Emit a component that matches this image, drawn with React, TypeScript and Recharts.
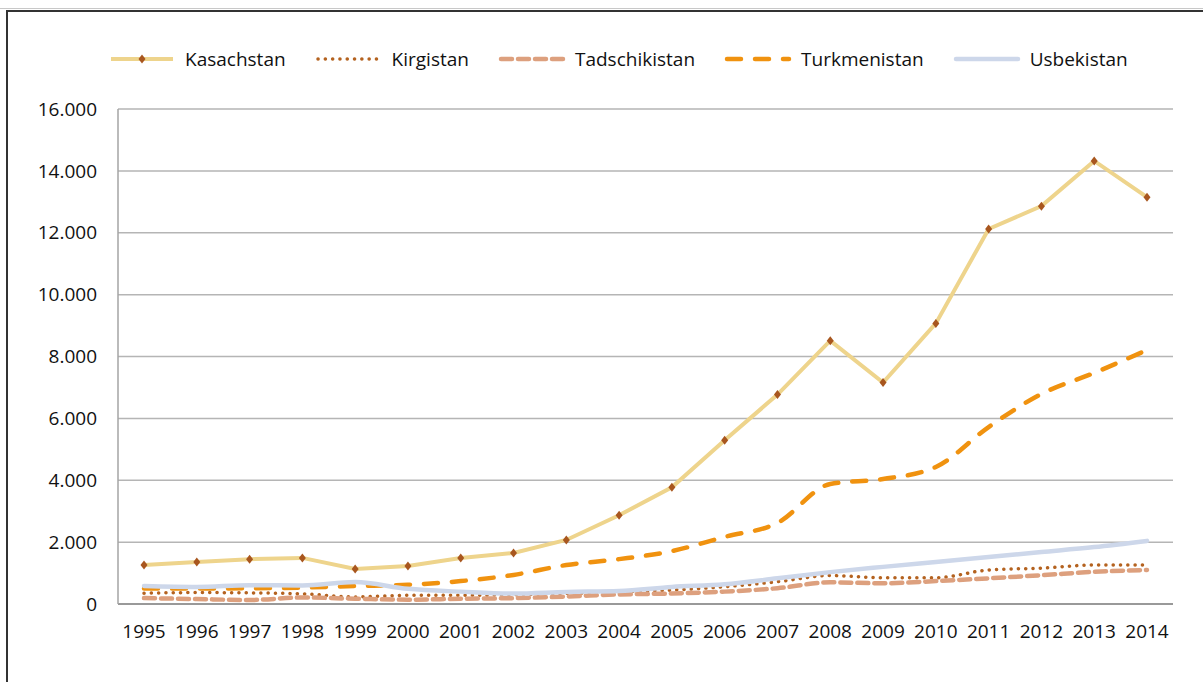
import React from 'react';
import { LineChart, Line, XAxis, YAxis, CartesianGrid } from 'recharts';

const years = ['1995', '1996', '1997', '1998', '1999', '2000', '2001', '2002', '2003', '2004',
    '2005', '2006', '2007', '2008', '2009', '2010', '2011', '2012', '2013', '2014'];

const kasachstan = [1260, 1360, 1450, 1490, 1130, 1230, 1490, 1650, 2070, 2870,
    3770, 5290, 6770, 8510, 7160, 9070, 12120, 12860, 14320, 13150];
const kirgistan = [350, 370, 360, 330, 230, 280, 280, 300, 340, 400,
    450, 560, 720, 920, 850, 850, 1100, 1160, 1260, 1260];
const tadschikistan = [190, 160, 130, 210, 170, 140, 170, 190, 240, 310,
    340, 400, 510, 700, 670, 740, 830, 930, 1040, 1100];
const turkmenistan = [500, 500, 510, 530, 580, 620, 740, 940, 1260, 1450,
    1710, 2170, 2620, 3880, 4040, 4430, 5720, 6790, 7470, 8210];
const usbekistan = [580, 550, 610, 600, 710, 490, 400, 340, 390, 420,
    550, 640, 830, 1030, 1200, 1360, 1520, 1680, 1840, 2040];

const yTicks = [0, 2000, 4000, 6000, 8000, 10000, 12000, 14000, 16000];

const data = years.map((year, i) => ({
    year,
    Kasachstan: kasachstan[i],
    Kirgistan: kirgistan[i],
    Tadschikistan: tadschikistan[i],
    Turkmenistan: turkmenistan[i],
    Usbekistan: usbekistan[i],
}));

const FONT = '"Open Sans", "Noto Sans", sans-serif';
const MARKER = '#A8561E';

const series = [
    { key: 'Kasachstan', color: '#EED48C', dash: undefined, width: 4, cap: 'butt', type: 'linear' },
    { key: 'Kirgistan', color: '#B4621F', dash: '0.1 7.2', width: 3.5, cap: 'round', type: 'monotone' },
    { key: 'Tadschikistan', color: '#DDA07E', dash: '11 6', width: 4.5, cap: 'round', type: 'monotone' },
    { key: 'Turkmenistan', color: '#F0920F', dash: '14 14', width: 4.5, cap: 'round', type: 'monotone' },
    { key: 'Usbekistan', color: '#CDD7EA', dash: undefined, width: 4.5, cap: 'round', type: 'monotone' },
];

const formatThousands = (v: number) => v.toString().replace(/\B(?=(\d{3})+(?!\d))/g, '.');

const Diamond = (props: any) => {
    const { cx, cy } = props;
    if (cx == null || cy == null) return null;
    return <path d={`M${cx},${cy - 4.5} L${cx + 3.5},${cy} L${cx},${cy + 4.5} L${cx - 3.5},${cy} Z`} fill={MARKER} />;
};

// legend drawn as plain html so it does not push the plot area down
const ChartLegend = () => {
    return (
        <div style={{
            position: 'absolute', left: 108, top: 46, display: 'flex', alignItems: 'center',
            fontFamily: FONT, fontSize: 19, color: '#111', whiteSpace: 'nowrap',
        }}>
            {series.map((s) => (
                <div key={s.key} style={{ display: 'flex', alignItems: 'center', marginRight: 29 }}>
                    <svg width={68} height={12} style={{ marginRight: 9 }}>
                        <line x1={3} y1={6} x2={65} y2={6} stroke={s.color} strokeWidth={s.width}
                            strokeDasharray={s.dash} strokeLinecap={s.cap as any} />
                        {s.key === 'Kasachstan' ? <Diamond cx={34} cy={6} /> : null}
                    </svg>
                    <span>{s.key}</span>
                </div>
            ))}
        </div>
    );
};

const App = () => {
    return (
        <div style={{ position: 'absolute', left: 0, top: 0, width: 1203, height: 682, overflow: 'hidden', background: '#fff' }}>
            <div style={{ position: 'absolute', left: 0, top: 8, width: 1203, height: 1, background: '#C8C8C8' }} />
            <div style={{
                position: 'absolute', left: 6, top: 10, width: 1250, height: 720,
                border: '2px solid #333', boxSizing: 'border-box',
            }} />
            <div style={{ position: 'absolute', left: 0, top: 0 }}>
                <LineChart width={1203} height={682} data={data}
                    margin={{ top: 109, right: 30, left: 30, bottom: 38 }}>
                    <CartesianGrid vertical={false} stroke="#B5B5B5" strokeWidth={1.5} />
                    <XAxis dataKey="year" stroke="#999" strokeWidth={2} tickLine={false} tickSize={0} tickMargin={21}
                        height={40} tick={{ fill: '#111', fontSize: 19, fontFamily: FONT }} interval={0}
                        padding={{ left: 26, right: 26 }} />
                    <YAxis domain={[0, 16000]} ticks={yTicks} width={88} stroke="#A5A5A5" strokeWidth={1.5}
                        tickLine={false} tickSize={0} tickMargin={21} tickFormatter={formatThousands}
                        tick={{ fill: '#111', fontSize: 19, fontFamily: FONT }} />
                    {series.map((s) => (
                        <Line key={s.key} dataKey={s.key} type={s.type as any} stroke={s.color}
                            strokeWidth={s.width} strokeDasharray={s.dash} strokeLinecap={s.cap as any}
                            dot={s.key === 'Kasachstan' ? <Diamond /> : false} activeDot={false}
                            isAnimationActive={false} />
                    ))}
                </LineChart>
            </div>
            <ChartLegend />
        </div>
    );
};

export default App;
